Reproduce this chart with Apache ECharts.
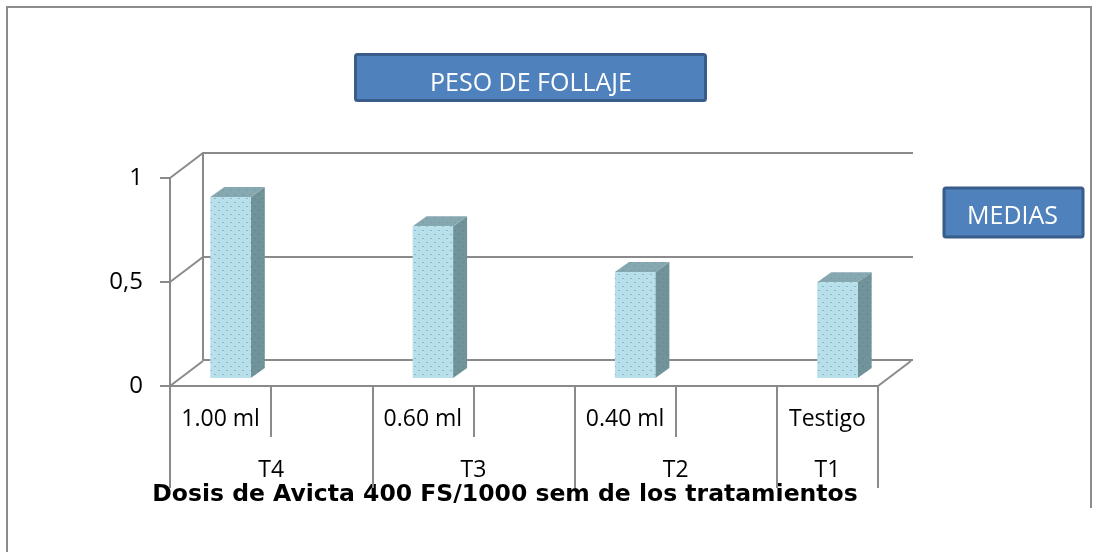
<!DOCTYPE html>
<html>
<head>
<meta charset="utf-8">
<script src="https://cdn.jsdelivr.net/npm/echarts@6/dist/echarts.min.js"></script>
<style>
  html, body { margin: 0; padding: 0; background: #fff; }
  #main { width: 1099px; height: 552px; }
</style>
</head>
<body>
<div id="main"></div>
<script>
// data
const doseLabels = ['1.00 ml', '0.60 ml', '0.40 ml', 'Testigo'];
const groupLabels = ['T4', 'T3', 'T2', 'T1'];
const groupSpans = [2, 2, 2, 1];          // categories covered by each treatment
const means = [0.87, 0.73, 0.51, 0.46];
const yTicks = { min: 0, max: 1, interval: 0.5 };

// category slots: dose label, then blanks for the rest of its treatment span
const doseCats = [];
const barData = [];
groupSpans.forEach((s, i) => {
  barData.push([doseCats.length, means[i]]);
  doseCats.push(doseLabels[i]);
  for (let k = 1; k < s; k++) doseCats.push('');
});
// half-category slots for the treatment axis (labels at the span centres)
const groupSlots = new Array(doseCats.length * 2 + 1).fill('');
const groupBounds = [0];
let start = 0;
groupSpans.forEach((s, i) => {
  groupSlots[start * 2 + s] = groupLabels[i];
  start += s;
  groupBounds.push(start * 2);
});

// 3d look
const LINE = '#8a8a8a';
const WALL_DEPTH = [33, -25];
const BAR_POS = [10, -8];
const BAR_DEPTH = [14, -10];
const BAR_WIDTH = 0.4;

function dots(bg, dot) {
  const c = document.createElement('canvas');
  c.width = 8; c.height = 8;
  const g = c.getContext('2d');
  g.fillStyle = bg; g.fillRect(0, 0, 8, 8);
  g.fillStyle = dot;
  g.fillRect(2, 2, 2, 1);
  g.fillRect(6, 6, 2, 1);
  return { image: c, repeat: 'repeat' };
}
const frontFill = dots('#b8e0eb', '#8fb3d6');
const sideFill = dots('#71939a', '#65858d');
const topFill = dots('#86a8b0', '#7a9ca6');

function renderBar(params, api) {
  const base = api.coord([api.value(0), 0]);
  const top = api.coord([api.value(0), api.value(1)]);
  const bw = api.size([1, 0])[0] * BAR_WIDTH;
  const x0 = base[0] - bw / 2 + BAR_POS[0];
  const x1 = x0 + bw;
  const yb = base[1] + BAR_POS[1];
  const yt = top[1] + BAR_POS[1];
  const dx = BAR_DEPTH[0], dy = BAR_DEPTH[1];
  return {
    type: 'group',
    children: [
      { type: 'polygon', shape: { points: [[x1, yt], [x1 + dx, yt + dy], [x1 + dx, yb + dy], [x1, yb]] }, style: { fill: sideFill } },
      { type: 'polygon', shape: { points: [[x0, yt], [x0 + dx, yt + dy], [x1 + dx, yt + dy], [x1, yt]] }, style: { fill: topFill } },
      { type: 'rect', shape: { x: x0, y: yt, width: bw, height: yb - yt }, style: { fill: frontFill } }
    ]
  };
}

// diagonal edges joining the front plane to the back wall
const edges = [[0, 0, -1], [0, 0.5, -1], [0, 1, -1], [doseCats.length - 1, 0, 1]];
function renderEdge(params, api) {
  const p = api.coord([api.value(0), api.value(1)]);
  const x = p[0] + api.value(2) * api.size([1, 0])[0] / 2;
  return {
    type: 'line',
    shape: { x1: x, y1: p[1], x2: x + WALL_DEPTH[0], y2: p[1] + WALL_DEPTH[1] },
    style: { stroke: LINE, lineWidth: 2 }
  };
}

const txt = 'Open Sans';
const chart = echarts.init(document.getElementById('main'));
chart.setOption({
  backgroundColor: '#fff',
  animation: false,
  title: {
    text: 'PESO DE FOLLAJE',
    left: 355, top: 54,
    padding: [17, 74, 5, 75],
    backgroundColor: '#4f81bd',
    borderColor: '#385d8a',
    borderWidth: 3,
    borderRadius: 2,
    textStyle: { color: '#fff', fontFamily: txt, fontSize: 25, fontWeight: 'normal', lineHeight: 25 }
  },
  legend: {
    data: ['MEDIAS'],
    left: 944, top: 188,
    orient: 'vertical',
    padding: [16, 25, 8, 18],
    itemWidth: 0, itemHeight: 0, itemGap: 0,
    icon: 'rect',
    backgroundColor: '#4f81bd',
    borderColor: '#385d8a',
    borderWidth: 3,
    borderRadius: 2,
    selectedMode: false,
    textStyle: { color: '#fff', fontFamily: txt, fontSize: 25, lineHeight: 25 }
  },
  graphic: [{
    type: 'polyline',
    shape: { points: [[7, 552], [7, 7], [1091, 7], [1091, 508]] },
    style: { stroke: '#8c8c8c', lineWidth: 2, fill: null },
    silent: true
  }],
  grid: [
    { left: 170, top: 178, width: 708, height: 208 },   // front plane
    { left: 203, top: 153, width: 710, height: 207 },   // back wall
    { left: 170, top: 178, width: 708, height: 208 }    // treatment axis
  ],
  xAxis: [
    {
      gridIndex: 0, type: 'category', data: doseCats,
      axisLine: { lineStyle: { color: LINE, width: 2 } },
      axisTick: { show: true, interval: 0, length: 51, lineStyle: { color: LINE, width: 2 } },
      axisLabel: { interval: 0, margin: 22, color: '#000', fontFamily: txt, fontSize: 23 }
    },
    { gridIndex: 1, type: 'value', min: 0, max: 1, show: false },
    {
      gridIndex: 2, type: 'category', boundaryGap: false, data: groupSlots,
      axisLine: { show: false },
      axisTick: {
        show: true, length: 102,
        interval: (i) => groupBounds.includes(i),
        lineStyle: { color: LINE, width: 2 }
      },
      axisLabel: { interval: 0, margin: 73, color: '#000', fontFamily: txt, fontSize: 23 },
      name: 'Dosis de Avicta 400 FS/1000 sem de los tratamientos',
      nameLocation: 'middle',
      nameGap: 95,
      nameTextStyle: { color: '#000', fontFamily: 'DejaVu Sans', fontWeight: 'bold', fontSize: 23.5, padding: [0, 38, 0, 0] }
    }
  ],
  yAxis: [
    {
      gridIndex: 0, type: 'value', min: yTicks.min, max: yTicks.max, interval: yTicks.interval,
      axisLine: { show: true, lineStyle: { color: LINE, width: 2 } },
      axisTick: { show: true, length: 10, lineStyle: { color: LINE, width: 2 } },
      splitLine: { show: false },
      axisLabel: {
        margin: 27, color: '#000', fontFamily: txt, fontSize: 24,
        formatter: (v) => String(v).replace('.', ',')
      }
    },
    {
      gridIndex: 1, type: 'value', min: yTicks.min, max: yTicks.max, interval: yTicks.interval,
      axisLine: { show: true, onZero: false, lineStyle: { color: LINE, width: 2 } },
      axisTick: { show: false },
      axisLabel: { show: false },
      splitLine: { show: true, lineStyle: { color: LINE, width: 2 } }
    },
    { gridIndex: 2, type: 'value', min: 0, max: 1, show: false }
  ],
  series: [
    {
      type: 'custom', name: 'edges', silent: true,
      xAxisIndex: 0, yAxisIndex: 0,
      renderItem: renderEdge, data: edges
    },
    {
      type: 'custom', name: 'MEDIAS',
      xAxisIndex: 0, yAxisIndex: 0,
      itemStyle: { color: '#b8e0eb' },
      encode: { x: 0, y: 1 },
      renderItem: renderBar, data: barData
    }
  ]
});
</script>
</body>
</html>
